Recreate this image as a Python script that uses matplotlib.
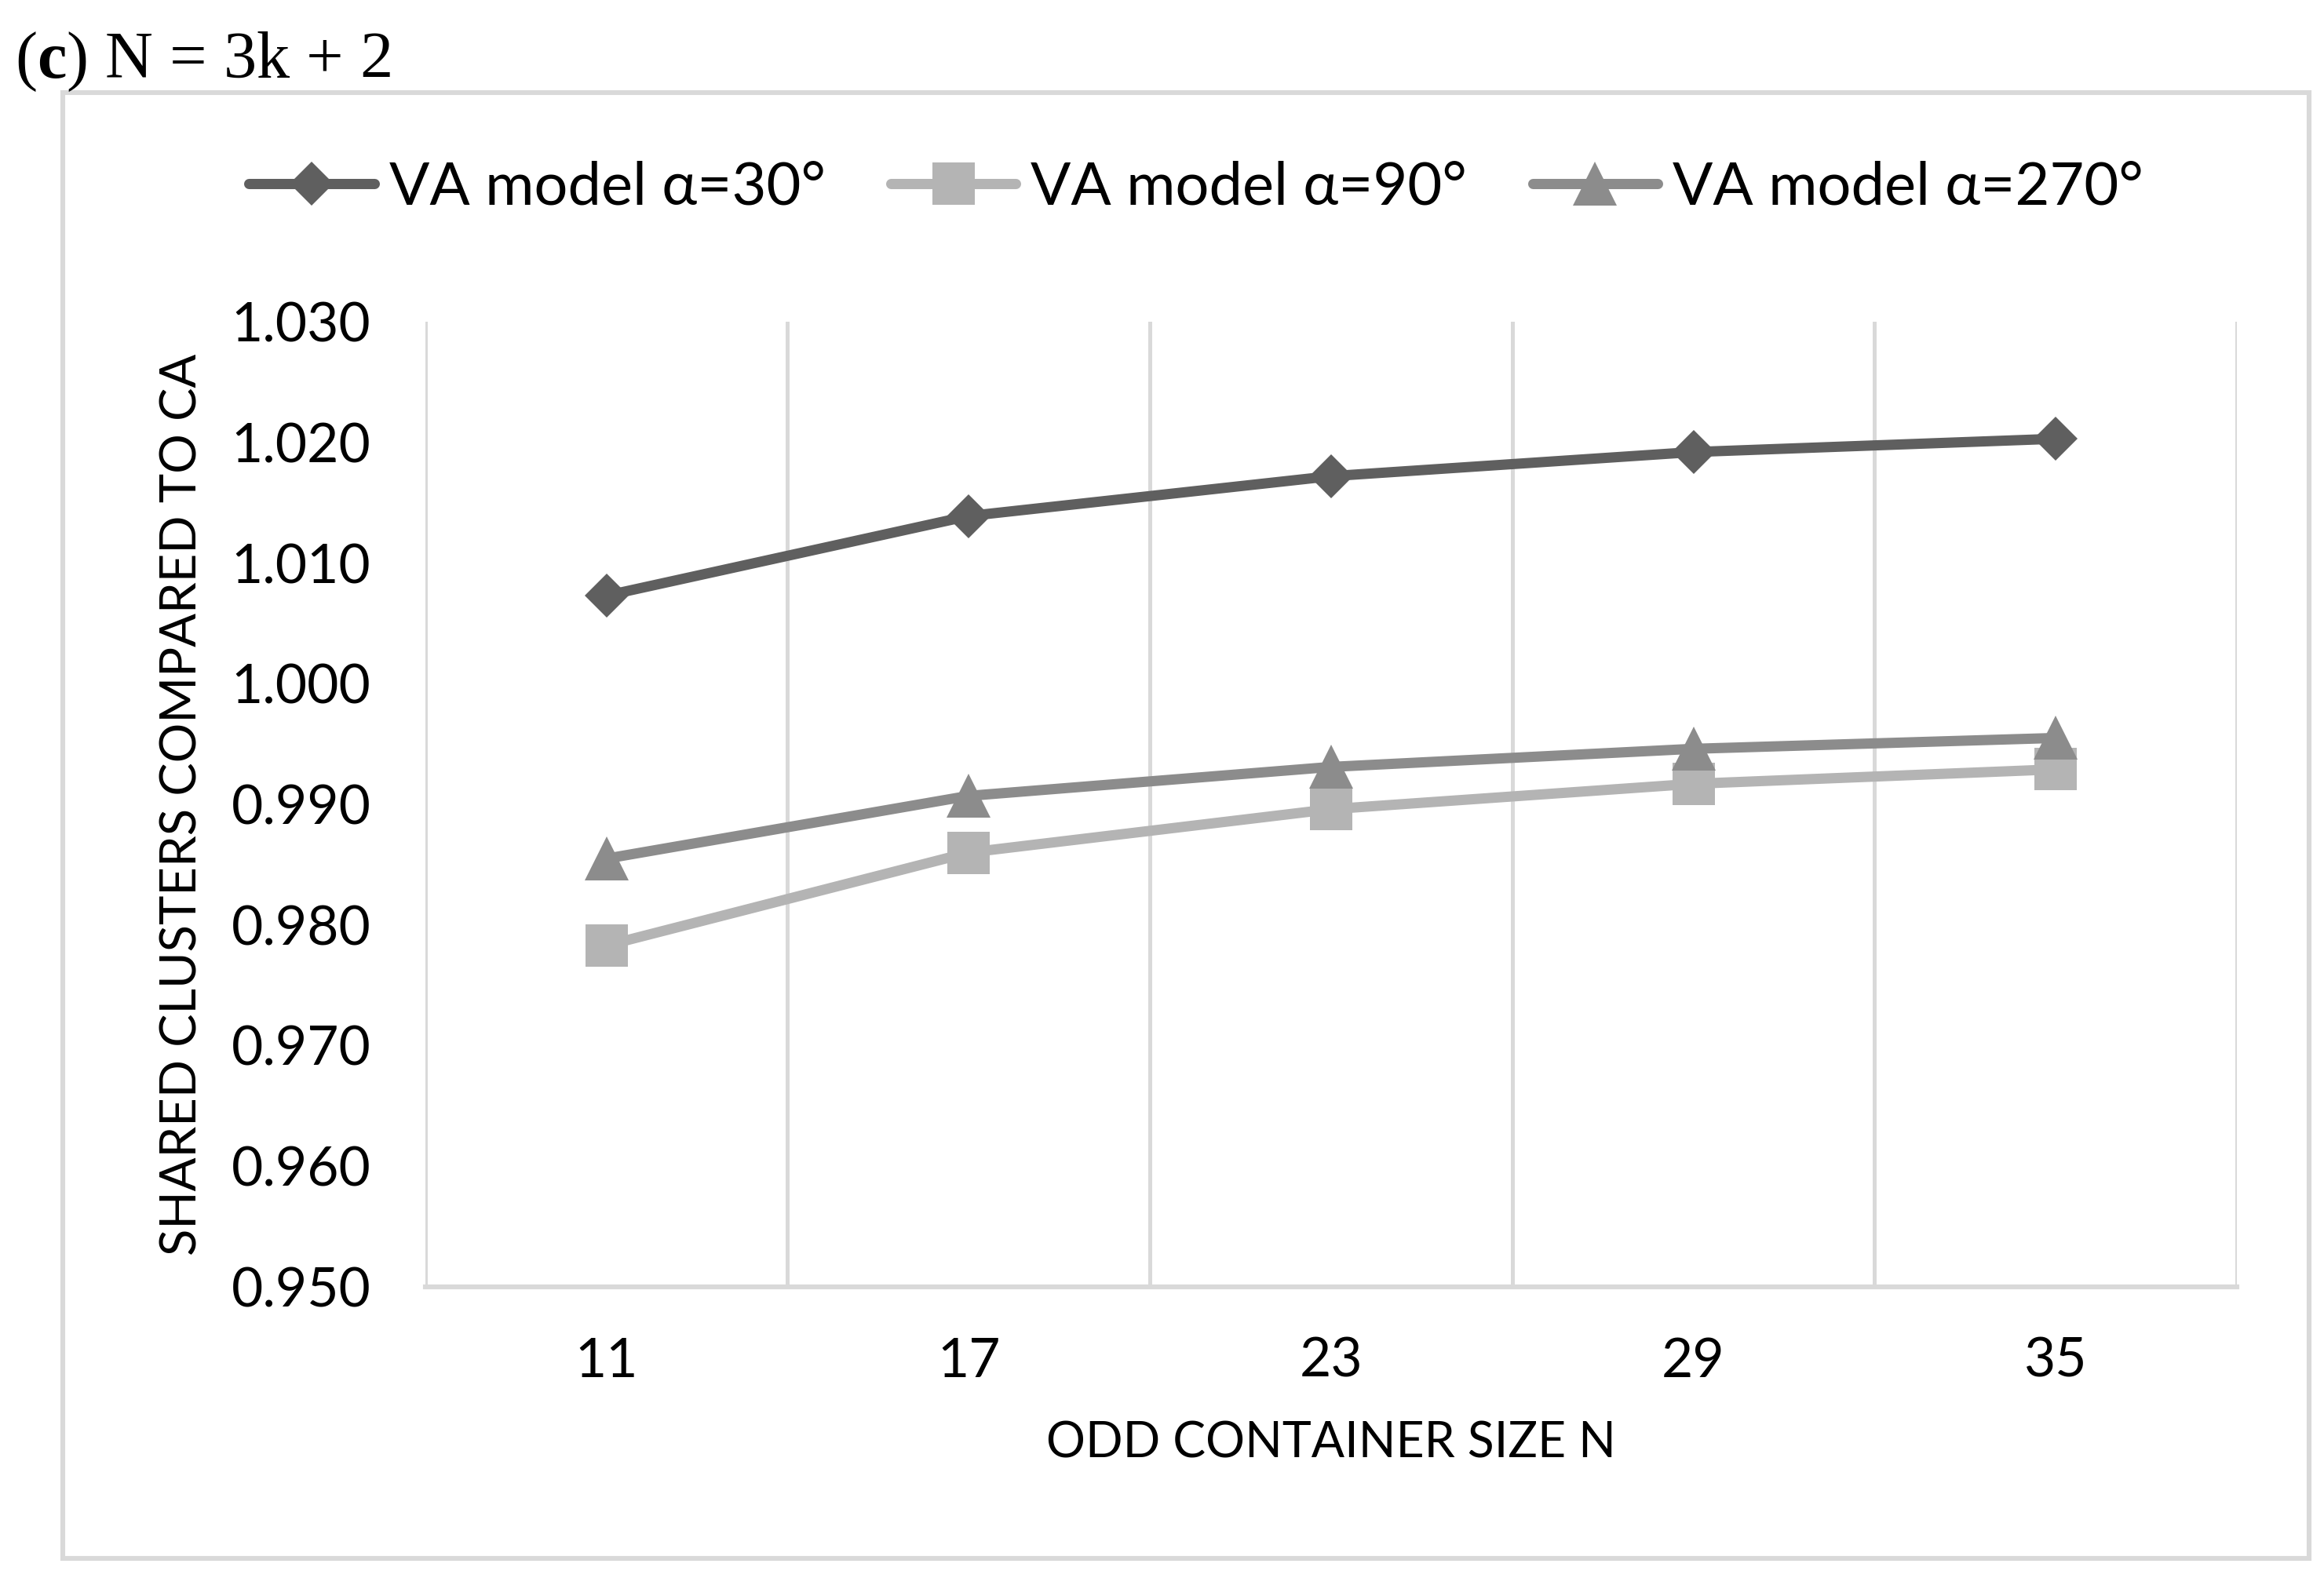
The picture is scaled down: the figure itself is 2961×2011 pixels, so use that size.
import matplotlib
matplotlib.use('Agg')
import matplotlib.pyplot as plt
import matplotlib.patches as patches
import numpy as np

# data
container_sizes = ['11', '17', '23', '29', '35']
va_30 = [1.0073, 1.0139, 1.0172, 1.0192, 1.0203]
va_90 = [0.9783, 0.9860, 0.9896, 0.9917, 0.9929]
va_270 = [0.9855, 0.9907, 0.9931, 0.9946, 0.9955]
y_ticks = [0.950, 0.960, 0.970, 0.980, 0.990, 1.000, 1.010, 1.020, 1.030]

plt.rcParams['font.family'] = ['Lato', 'DejaVu Sans']
plt.rcParams['mathtext.fontset'] = 'custom'
plt.rcParams['mathtext.rm'] = 'Liberation Serif'
plt.rcParams['mathtext.bf'] = 'Liberation Serif:bold'

grid_col = '#d9d9d9'

fig = plt.figure(figsize=(14.805, 10.055), dpi=200)
ax = fig.add_axes([0.1830, 0.1845, 0.9625 - 0.1830, 0.7961 - 0.1845])

x = np.arange(len(container_sizes))
series = [
    (va_30, 'VA model α=30°', '#5f5f5f', 'D', 14.5),
    (va_90, 'VA model α=90°', '#b4b4b4', 's', 19.5),
    (va_270, 'VA model α=270°', '#8c8c8c', '^', 20),
]
for vals, label, col, mk, ms in series:
    ax.plot(x, vals, color=col, lw=4.7, marker=mk, markersize=ms,
            markeredgewidth=0, label=label, solid_capstyle='round',
            clip_on=False, zorder=3)

ax.set_xlim(-0.5, len(container_sizes) - 0.5)
ax.set_ylim(0.950, 1.030)
ax.set_xticks(x)
ax.set_xticklabels(container_sizes)
ax.set_xticks(np.arange(-0.5, len(container_sizes), 1), minor=True)
ax.set_yticks(y_ticks)
ax.set_yticklabels(['%.3f' % v for v in y_ticks])
ax.grid(which='minor', axis='x', color=grid_col, lw=1.8)
ax.tick_params(which='both', length=0)
ax.tick_params(axis='x', labelsize=25, pad=23)
ax.tick_params(axis='y', labelsize=25, pad=25)

for side in ['left', 'right', 'top']:
    ax.spines[side].set_visible(False)
ax.spines['bottom'].set_color(grid_col)
ax.spines['bottom'].set_linewidth(2.2)
ax.spines['bottom'].set_zorder(2.5)

fig.text(0.0785, 0.490, 'SHARED CLUSTERS COMPARED TO CA', rotation=90,
         ha='center', va='center', fontsize=22.8)
fig.text(0.5727, 0.0855, 'ODD CONTAINER SIZE N', ha='center', va='center',
         fontsize=22.5)

fig.text(0.0064, 0.951, r'($\mathbf{c}$) N = 3k + 2', ha='left', va='baseline',
         fontsize=30.4, family='Liberation Serif')

fig.legend(loc='center', bbox_to_anchor=(0.5147, 0.881), ncol=3, frameon=False,
           fontsize=27.3, numpoints=1, handlelength=2.1, handletextpad=0.25,
           columnspacing=1.1)

# outer chart border
fig.patches.append(patches.Rectangle((0.027, 0.0124), 0.9665, 0.929,
                                     transform=fig.transFigure, fill=False,
                                     edgecolor=grid_col, lw=2.2))

fig.savefig('out.png', dpi=200, facecolor='white')
